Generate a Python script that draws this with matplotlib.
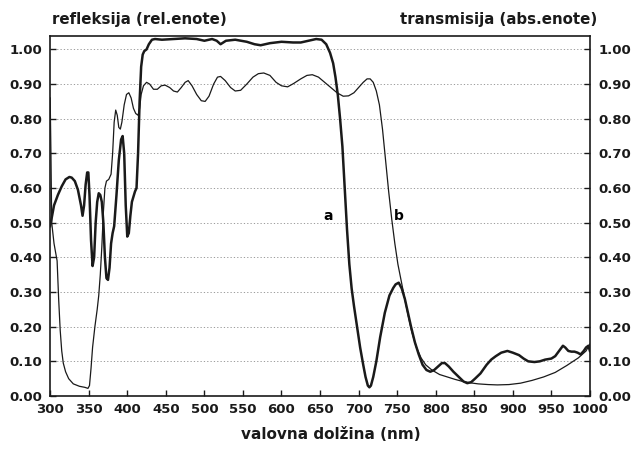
import numpy as np
import matplotlib.pyplot as plt

# curve a (thick)
a_nm = [300, 305, 310, 315, 320, 325, 328, 332, 336, 340, 342, 344, 346, 348, 349.5,
        351, 353, 355, 357, 359, 361, 363, 365, 367, 369, 371, 373, 375, 377, 379,
        381, 383, 386, 389, 392, 394, 396, 398, 400, 402, 404, 406, 408, 410, 412,
        414, 416, 418, 420, 422, 425, 428, 432, 436, 445, 460, 475, 490, 500, 510,
        516, 521, 528, 540, 555, 565, 573, 585, 600, 615, 625, 635, 645, 652, 658,
        663, 667, 670, 673, 676, 679, 682, 685, 688, 691, 694, 698, 702, 706, 709,
        712, 714, 716, 719, 723, 728, 734, 740, 745, 748, 752, 756, 760, 764, 768,
        773, 778, 783, 788, 793, 798, 803, 808, 812, 817, 823, 830, 836, 841, 846,
        851, 858, 866, 872, 878, 885, 893, 900, 908, 914, 920, 928, 935, 942, 950,
        955, 960, 965, 968, 972, 976, 980, 984, 988, 992, 995, 998, 1000]
a_val = [0.49, 0.55, 0.58, 0.605, 0.625, 0.632, 0.63, 0.62, 0.595, 0.55, 0.52, 0.55, 0.61, 0.645, 0.645,
         0.58, 0.45, 0.375, 0.40, 0.50, 0.56, 0.585, 0.58, 0.56, 0.50, 0.40, 0.34, 0.335, 0.37, 0.44,
         0.47, 0.49, 0.58, 0.68, 0.74, 0.75, 0.70, 0.55, 0.46, 0.47, 0.52, 0.56, 0.575, 0.59, 0.60,
         0.70, 0.85, 0.95, 0.985, 0.995, 1.00, 1.015, 1.028, 1.03, 1.028, 1.03, 1.032, 1.03, 1.025, 1.03,
         1.025, 1.015, 1.025, 1.028, 1.022, 1.015, 1.012, 1.018, 1.022, 1.02, 1.02, 1.025, 1.03, 1.028, 1.015,
         0.99, 0.96, 0.92, 0.87, 0.80, 0.72, 0.60, 0.48, 0.38, 0.31, 0.26, 0.20, 0.14, 0.09, 0.055,
         0.03, 0.025, 0.03, 0.055, 0.10, 0.17, 0.24, 0.29, 0.312, 0.322, 0.327, 0.31, 0.28, 0.24, 0.20,
         0.155, 0.12, 0.09, 0.075, 0.07, 0.075, 0.085, 0.095, 0.095, 0.085, 0.07, 0.055, 0.042, 0.037, 0.04,
         0.05, 0.065, 0.09, 0.105, 0.115, 0.125, 0.13, 0.125, 0.118, 0.108, 0.10, 0.098, 0.10, 0.105, 0.108,
         0.115, 0.13, 0.145, 0.14, 0.13, 0.128, 0.128, 0.125, 0.12, 0.13, 0.14, 0.145, 0.13]

# curve b (thin)
b_nm = [300, 301, 302, 305, 309, 311, 313, 315, 317, 320, 324, 330, 338, 345, 349,
        351, 353, 355, 358, 361, 363, 365, 367, 369, 371, 373, 376, 379, 381, 383,
        385, 387, 389, 391, 393, 396, 399, 402, 405, 408, 411, 414, 416, 418, 421,
        425, 429, 434, 439, 444, 449, 455, 460, 465, 470, 475, 479, 484, 490, 496,
        501, 506, 512, 517, 521, 527, 534, 540, 547, 555, 563, 570, 577, 585, 593,
        600, 608, 616, 625, 633, 640, 648, 656, 664, 672, 680, 687, 694, 700, 706,
        711, 715, 719, 723, 727, 731, 735, 739, 743, 747, 751, 755, 759, 764, 769,
        775, 781, 787, 795, 805, 815, 825, 835, 845, 855, 868, 880, 895, 910, 925,
        940, 955, 970, 985, 995, 1000]
b_val = [0.86, 0.70, 0.50, 0.44, 0.39, 0.28, 0.19, 0.13, 0.095, 0.07, 0.05, 0.035, 0.028, 0.025, 0.022,
         0.03, 0.08, 0.14, 0.20, 0.25, 0.29, 0.35, 0.43, 0.53, 0.60, 0.62, 0.625, 0.64, 0.70, 0.79,
         0.825, 0.81, 0.775, 0.77, 0.79, 0.84, 0.87, 0.875, 0.86, 0.83, 0.815, 0.81, 0.83, 0.87, 0.895,
         0.905, 0.90, 0.885, 0.885, 0.895, 0.897, 0.89, 0.88, 0.877, 0.89, 0.905, 0.91, 0.895, 0.87, 0.852,
         0.85, 0.865, 0.90, 0.92, 0.922, 0.91, 0.89, 0.88, 0.882, 0.90, 0.92, 0.93, 0.932, 0.925, 0.905,
         0.895, 0.892, 0.902, 0.915, 0.925, 0.927, 0.92, 0.905, 0.89, 0.875, 0.865, 0.866, 0.875, 0.89, 0.905,
         0.915, 0.915, 0.905, 0.88, 0.84, 0.77, 0.68, 0.59, 0.51, 0.44, 0.38, 0.335, 0.29, 0.235, 0.185,
         0.14, 0.11, 0.09, 0.075, 0.062, 0.055, 0.048, 0.042, 0.038, 0.035, 0.033, 0.032, 0.033, 0.037, 0.045,
         0.055, 0.068, 0.088, 0.11, 0.13, 0.15]

x_ticks = list(range(300, 1001, 50))
y_ticks = [i / 10 for i in range(11)]

plt.rcParams['font.family'] = 'DejaVu Sans'
plt.rcParams['font.weight'] = 'bold'

fig = plt.figure(figsize=(6.35, 4.5), dpi=100)
ax = fig.add_axes([0.079, 0.12, 0.85, 0.801])

ax.plot(a_nm, a_val, color='#1a1a1a', lw=1.8, solid_joinstyle='round')
ax.plot(b_nm, b_val, color='#1a1a1a', lw=0.9, solid_joinstyle='round')

ax.set_xlim(300, 1000)
ax.set_ylim(0, 1.04)
ax.set_xticks(x_ticks)
ax.set_yticks(y_ticks)
ax.set_yticklabels([f'{v:.2f}' for v in y_ticks])
ax.tick_params(axis='both', direction='in', length=4, width=1, labelsize=9.5,
               colors='#1a1a1a')
ax.tick_params(axis='y', right=True, labelright=True, pad=6)
ax.tick_params(axis='x', pad=5)

ax.yaxis.grid(True, linestyle=(0, (1.5, 2.5)), color='0.55', lw=0.6)
for s in ax.spines.values():
    s.set_linewidth(1.2)
    s.set_color('#1a1a1a')

ax.text(661, 0.52, 'a', fontsize=10, fontweight='bold', ha='center', va='center')
ax.text(752, 0.52, 'b', fontsize=10, fontweight='bold', ha='center', va='center')

ax.set_xlabel('valovna dolžina (nm)', fontsize=11, fontweight='bold',
              color='#1a1a1a')
ax.xaxis.set_label_coords(0.52, -0.085)
fig.text(52 / 635, 1 - 24 / 450, 'refleksija (rel.enote)', fontsize=10.8,
         fontweight='bold', ha='left', color='#1a1a1a')
fig.text(597 / 635, 1 - 24 / 450, 'transmisija (abs.enote)', fontsize=10.8,
         fontweight='bold', ha='right', color='#1a1a1a')

fig.savefig('out.png', dpi=100)
